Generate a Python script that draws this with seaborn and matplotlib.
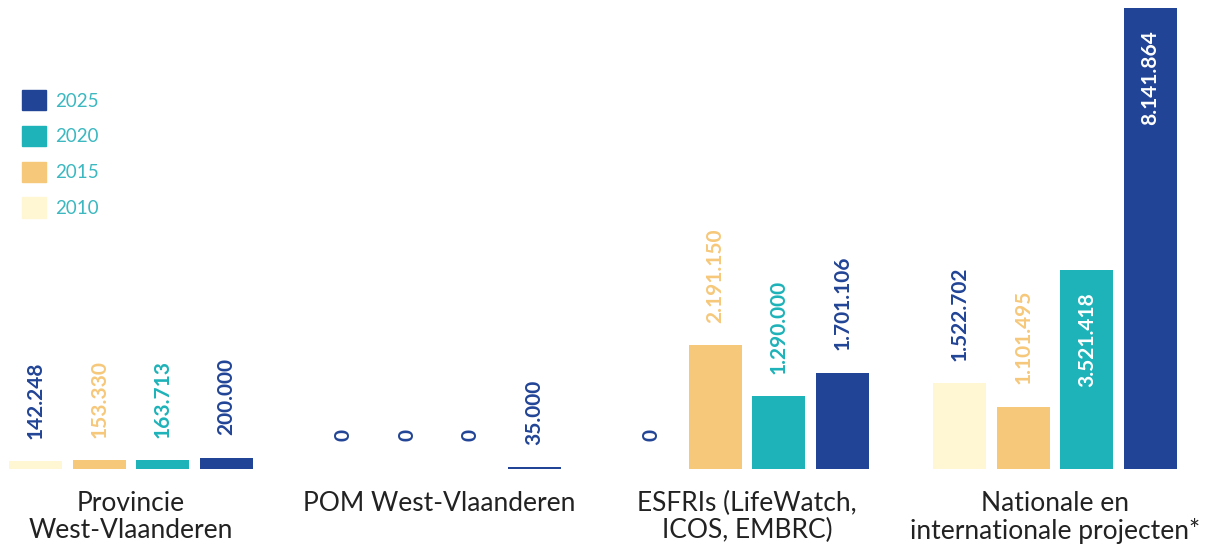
import matplotlib
matplotlib.use("Agg")
import matplotlib.pyplot as plt
from matplotlib.patches import Patch
import pandas as pd
import seaborn as sns

# Data
groups = ["Provincie\nWest-Vlaanderen", "POM West-Vlaanderen",
          "ESFRIs (LifeWatch,\nICOS, EMBRC)", "Nationale en\ninternationale projecten*"]
years = ["2010", "2015", "2020", "2025"]
v2010 = [142248, 0, 0, 1522702]
v2015 = [153330, 0, 2191150, 1101495]
v2020 = [163713, 0, 1290000, 3521418]
v2025 = [200000, 35000, 1701106, 8141864]

bar_colors = ["#FFF6D4", "#F6C87A", "#1DB3B9", "#224496"]
label_colors = ["#224496", "#F6C87A", "#1DB3B9", "#224496"]
dark_blue = "#224496"

rows = []
for year, vals in zip(years, [v2010, v2015, v2020, v2025]):
    for g, v in zip(groups, vals):
        rows.append({"group": g, "year": year, "value": v})
df = pd.DataFrame(rows)

sns.set_style("white")
plt.rcParams["font.family"] = ["Lato", "DejaVu Sans"]

fig = plt.figure(figsize=(12.31, 5.54), dpi=100)
ax = fig.add_axes([0, 85 / 554, 1, 461 / 554])

sns.barplot(data=df, x="group", y="value", hue="year", hue_order=years,
            palette=bar_colors, saturation=1, width=0.825, gap=0.165,
            linewidth=0, legend=False, ax=ax)

ax.set_xlim(-131 / 308, 1100 / 308)
ax.set_ylim(0, max(v2025))

# value labels
fmt = lambda v: f"{v:,}".replace(",", ".")
big = 3000000
for i, cont in enumerate(ax.containers):
    vals = [v2010, v2015, v2020, v2025][i]
    for bar, v in zip(cont.patches, vals):
        x = bar.get_x() + bar.get_width() / 2
        h = bar.get_height()
        if v >= big:
            ax.annotate(fmt(v), (x, h), xytext=(0, -16), textcoords="offset points",
                        rotation=90, ha="center", va="top", color="white",
                        fontsize=15, fontweight="bold")
        else:
            col = dark_blue if v == 0 else label_colors[i]
            ax.annotate(fmt(v), (x, h), xytext=(0, 16 if v else 20),
                        textcoords="offset points", rotation=90,
                        ha="center", va="bottom", color=col,
                        fontsize=15, fontweight="bold")

ax.set_xlabel("")
ax.set_ylabel("")
ax.set_yticks([])
ax.tick_params(axis="x", length=0, pad=16, labelsize=19, labelcolor="#222222")
for t in ax.get_xticklabels():
    t.set_linespacing(1.1)
sns.despine(ax=ax, left=True, bottom=True)

handles = [Patch(color=c, label=y) for c, y in zip(bar_colors, years)][::-1]
leg = fig.legend(handles=handles, loc="upper left", bbox_to_anchor=(0.004, 0.868),
                 frameon=False, fontsize=13.5, handlelength=1.3, handleheight=1.3,
                 labelspacing=0.82, handletextpad=0.5)
for t in leg.get_texts():
    t.set_color("#3BB8C0")

fig.savefig("out.png", dpi=100)
